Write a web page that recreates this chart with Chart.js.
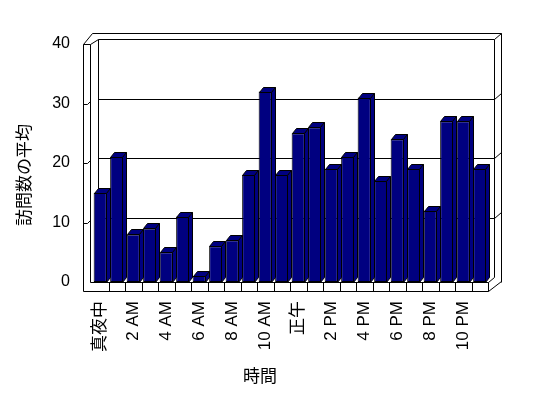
<!DOCTYPE html>
<html>
<head>
<meta charset="utf-8">
<script src="https://cdn.jsdelivr.net/npm/chart.js@4/dist/chart.umd.min.js"></script>
<style>
html,body{margin:0;padding:0;background:#fff;}
canvas{display:block;}
</style>
</head>
<body>
<canvas id="c" width="548" height="398"></canvas>
<script>
const hours = ['真夜中','1 AM','2 AM','3 AM','4 AM','5 AM','6 AM','7 AM','8 AM','9 AM','10 AM','11 AM',
               '正午','1 PM','2 PM','3 PM','4 PM','5 PM','6 PM','7 PM','8 PM','9 PM','10 PM','11 PM'];
const visits = [15,21,8,9,5,11,1,6,7,18,32,18,25,26,19,21,31,17,24,19,12,27,27,19];
const yTickValues = [0,10,20,30,40];
const yTitle = '訪問数の平均';
const xTitle = '時間';

const FONT = '"Liberation Sans","Noto Sans CJK JP",sans-serif';
const NAVY = '#000080';

const frame3D = {
  id: 'frame3D',
  beforeDatasetsDraw(chart) {
    const ctx = chart.ctx, y = chart.scales.y, x = chart.scales.x;
    const a = chart.chartArea;
    const L0 = 83.5, L1 = 90.5, B0 = 98.5, R0 = 494.5, R1 = 501.5;
    const F = Math.round(a.right) + 0.5;
    const yf = v => Math.round(y.getPixelForValue(v)) + 0.5;
    const yb = v => Math.round(y.getPixelForValue(v) - 5) + 0.5;
    const floorTop = yf(0), floorBot = floorTop + 9;
    const topOuter = yb(40) - 6;
    ctx.save();
    ctx.strokeStyle = '#000';
    ctx.lineWidth = 1;
    const line = (pts) => { ctx.beginPath(); ctx.moveTo(pts[0][0], pts[0][1]); for (let i = 1; i < pts.length; i++) ctx.lineTo(pts[i][0], pts[i][1]); ctx.stroke(); };
    // back wall front face
    line([[B0, yb(0)], [B0, yb(40)], [R0, yb(40)], [R0, yb(0)]]);
    // gridlines on back wall + ticks on walls
    yTickValues.forEach(v => {
      if (v > 0 && v < 40) {
        line([[B0, yb(v)], [R0, yb(v)]]);
        line([[R0, yb(v)], [R1, yb(v) - 6]]);
        line([[L0, yf(v)], [L1 - 3, yf(v)], [L1, yf(v) - 3]]);
      }
    });
    // top of walls
    line([[L0, yf(40)], [L1, yf(40)], [B0, yb(40)]]);
    line([[L0, yf(40)], [L0 + 9, topOuter], [R1, topOuter], [R1, yb(0) + 5]]);
    line([[R0, yb(40)], [R1, topOuter]]);
    // left wall front edge + floor front face
    line([[L1, yf(40)], [L1, floorTop], [F, floorTop]]);
    line([[L0, yf(40)], [L0, floorBot], [F, floorBot], [F, floorTop]]);
    // floor right side
    line([[F, floorTop], [R0, yb(0)]]);
    line([[F, floorBot], [R1, floorBot - 10]]);
    // category boundary ticks on floor front
    for (let i = 1; i < hours.length; i++) {
      const px = Math.round((x.getPixelForValue(i - 1) + x.getPixelForValue(i)) / 2) + 0.5;
      line([[px, floorTop], [px, floorBot]]);
    }
    ctx.restore();
  },
  afterDatasetsDraw(chart) {
    const ctx = chart.ctx;
    const meta = chart.getDatasetMeta(0);
    const dx = 4, dy = 5;
    ctx.save();
    ctx.strokeStyle = '#000';
    ctx.lineWidth = 1;
    ctx.fillStyle = NAVY;
    meta.data.forEach(bar => {
      const p = bar.getProps(['x', 'y', 'base', 'width'], true);
      const l = Math.round(p.x - p.width / 2) + 0.5, r = Math.round(p.x + p.width / 2) - 0.5;
      const t = Math.round(p.y) + 0.5, b = Math.round(p.base) + 0.5;
      // top face
      ctx.beginPath();
      ctx.moveTo(l, t); ctx.lineTo(l + dx, t - dy); ctx.lineTo(r + dx, t - dy); ctx.lineTo(r, t); ctx.closePath();
      ctx.fill(); ctx.stroke();
      // side face
      ctx.beginPath();
      ctx.moveTo(r, t); ctx.lineTo(r + dx, t - dy); ctx.lineTo(r + dx, b - dy); ctx.lineTo(r, b); ctx.closePath();
      ctx.fill(); ctx.stroke();
    });
    ctx.restore();
  },
  afterDraw(chart) {
    const ctx = chart.ctx;
    ctx.save();
    ctx.fillStyle = '#000';
    ctx.font = '17px ' + FONT;
    ctx.textAlign = 'center';
    ctx.textBaseline = 'middle';
    ctx.fillText(xTitle, 260, 377);
    ctx.translate(25, 175);
    ctx.rotate(-Math.PI / 2);
    ctx.fillText(yTitle, 0, 0);
    ctx.restore();
  }
};

new Chart(document.getElementById('c'), {
  type: 'bar',
  data: {
    labels: hours,
    datasets: [{
      data: visits,
      backgroundColor: NAVY,
      borderColor: '#000',
      borderWidth: 1,
      borderSkipped: false,
      barPercentage: 0.8,
      categoryPercentage: 1.0
    }]
  },
  options: {
    responsive: false,
    animation: false,
    layout: { padding: { top: 44, right: 60, left: 0, bottom: 0 } },
    plugins: { legend: { display: false }, tooltip: { enabled: false }, title: { display: false } },
    scales: {
      x: {
        afterFit: s => { s.height = 116; },
        grid: { display: false, drawTicks: false },
        border: { display: false },
        ticks: {
          autoSkip: false,
          minRotation: 90,
          maxRotation: 90,
          padding: 19,
          color: '#000',
          font: { family: FONT, size: 17 },
          callback: function(v, i) { return i % 2 === 0 ? this.getLabelForValue(v) : ''; }
        }
      },
      y: {
        min: 0,
        max: 40,
        afterFit: s => { s.width = 92; },
        afterBuildTicks: s => { s.ticks = yTickValues.map(v => ({ value: v })); },
        grid: { display: false, drawTicks: false },
        border: { display: false },
        ticks: {
          padding: 22,
          color: '#000',
          font: { family: FONT, size: 16 }
        }
      }
    }
  },
  plugins: [frame3D]
});
</script>
</body>
</html>
